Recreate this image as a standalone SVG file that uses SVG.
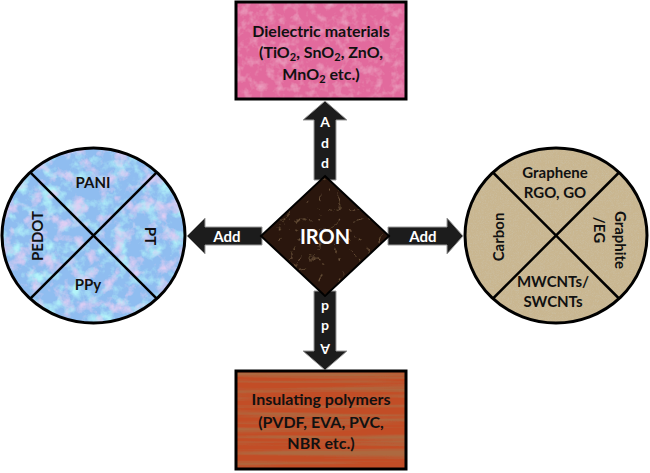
<svg xmlns="http://www.w3.org/2000/svg" width="650" height="473" viewBox="0 0 650 473">
<defs>
<style>
.lbl{font-family:Lato,"Open Sans","Liberation Sans",sans-serif;font-weight:bold;fill:#111;text-anchor:middle;}
.wht{font-family:Lato,"Open Sans","Liberation Sans",sans-serif;font-weight:bold;fill:#fff;text-anchor:middle;}
.edge{fill:none;stroke:#000;stroke-width:3;}
.div{stroke:#000;stroke-width:2.5;}
.arrow{fill:#1c1c1c;stroke:#9a9a9a;stroke-width:1;}
</style>
<filter id="tPink" x="0" y="0" width="1" height="1">
<feTurbulence type="fractalNoise" baseFrequency="0.12" numOctaves="3" seed="4" result="n"/>
<feColorMatrix in="n" type="matrix" values="0 0 0 0 0.88  0 0 0 0 0.5  0 0 0 0 0.66  1.2 0 0 0 -0.55" result="c"/>
<feComposite in="c" in2="SourceGraphic" operator="over" result="m"/>
<feComposite in="m" in2="SourceAlpha" operator="in"/>
</filter>
<filter id="tBlue" x="0" y="0" width="1" height="1">
<feTurbulence type="fractalNoise" baseFrequency="0.07" numOctaves="4" seed="7" result="n"/>
<feColorMatrix in="n" type="matrix" values="0 0 0 0 0.45  0 0 0 0 0.9  0 0 0 0 0.95  3 0 0 0 -1.45" result="c"/>
<feColorMatrix in="n" type="matrix" values="0 0 0 0 0.75  0 0 0 0 0.62  0 0 0 0 0.9  0 0 3 0 -1.5" result="p"/>
<feComposite in="c" in2="SourceGraphic" operator="over" result="m1"/>
<feComposite in="p" in2="m1" operator="over" result="m"/>
<feComposite in="m" in2="SourceAlpha" operator="in"/>
</filter>
<filter id="tWood" x="0" y="0" width="1" height="1">
<feTurbulence type="fractalNoise" baseFrequency="0.004 0.18" numOctaves="3" seed="3" result="n"/>
<feColorMatrix in="n" type="matrix" values="0 0 0 0 0.42  0 0 0 0 0.14  0 0 0 0 0.05  3.2 0 0 0 -1.4" result="c"/>
<feComposite in="c" in2="SourceGraphic" operator="over" result="m"/>
<feComposite in="m" in2="SourceAlpha" operator="in"/>
</filter>
<filter id="tTan" x="0" y="0" width="1" height="1">
<feTurbulence type="turbulence" baseFrequency="0.6 0.6" numOctaves="2" seed="5" result="n"/>
<feColorMatrix in="n" type="matrix" values="0 0 0 0 0.6  0 0 0 0 0.53  0 0 0 0 0.38  1.2 0 0 0 -0.2" result="c"/>
<feComposite in="c" in2="SourceGraphic" operator="over" result="m"/>
<feComposite in="m" in2="SourceAlpha" operator="in"/>
</filter>
<filter id="tIron" x="0" y="0" width="1" height="1">
<feTurbulence type="turbulence" baseFrequency="0.05" numOctaves="4" seed="9" result="n"/>
<feColorMatrix in="n" type="matrix" values="0 0 0 0 0.42  0 0 0 0 0.24  0 0 0 0 0.12  -2.5 0 0 0 0.35" result="c"/>
<feComposite in="c" in2="SourceGraphic" operator="over" result="m"/>
<feComposite in="m" in2="SourceAlpha" operator="in"/>
</filter>
</defs>
<rect width="650" height="473" fill="#fff"/>

<g id="connectors">
<g id="arrow-up">
<path class="arrow" d="M314,180 L314,120 L303,120 L325,101 L347,120 L336,120 L336,180 Z"/>
<text class="wht" font-size="14" x="325" y="127">A</text>
<text class="wht" font-size="14" x="325" y="148">d</text>
<text class="wht" font-size="14" x="325" y="168">d</text>
</g>
<g id="arrow-down" transform="rotate(180 325 235.5)">
<path class="arrow" d="M314,180 L314,120 L303,120 L325,101 L347,120 L336,120 L336,180 Z"/>
<text class="wht" font-size="14" x="325" y="127">A</text>
<text class="wht" font-size="14" x="325" y="148">d</text>
<text class="wht" font-size="14" x="325" y="168">d</text>
</g>
<g id="arrow-left">
<path class="arrow" d="M262,227 L205,227 L205,218 L187,236 L205,254 L205,245 L262,245 Z"/>
<text class="wht" font-size="15" x="227" y="241.5">Add</text>
</g>
<g id="arrow-right">
<path class="arrow" d="M388,227 L447,227 L447,218 L463,236 L447,254 L447,245 L388,245 Z"/>
<text class="wht" font-size="15" x="423" y="241.5">Add</text>
</g>
</g>

<g id="node-dielectric">
<rect x="236" y="2" width="170" height="97" fill="#e26a9d" filter="url(#tPink)"/>
<rect class="edge" x="236" y="2" width="170" height="97"/>
<text class="lbl" font-size="16" x="321" y="37">Dielectric materials</text>
<text class="lbl" font-size="16" x="321" y="58">(TiO<tspan font-size="11" dy="3">2</tspan><tspan dy="-3">, SnO</tspan><tspan font-size="11" dy="3">2</tspan><tspan dy="-3">, ZnO,</tspan></text>
<text class="lbl" font-size="16" x="321" y="80">MnO<tspan font-size="11" dy="3">2</tspan><tspan dy="-3"> etc.)</tspan></text>
</g>

<g id="node-insulating">
<rect x="236" y="371" width="170" height="98" fill="#c24d26" filter="url(#tWood)"/>
<rect class="edge" x="236" y="371" width="170" height="98"/>
<text class="lbl" font-size="16" x="321" y="405">Insulating polymers</text>
<text class="lbl" font-size="16" x="321" y="428">(PVDF, EVA, PVC,</text>
<text class="lbl" font-size="16" x="321" y="449">NBR etc.)</text>
</g>

<g id="node-conducting-polymers">
<ellipse cx="93.5" cy="235.5" rx="91.5" ry="87.5" fill="#8fbdf0" filter="url(#tBlue)"/>
<line class="div" x1="30.3" y1="172.3" x2="156.7" y2="298.7"/>
<line class="div" x1="156.7" y1="172.3" x2="30.3" y2="298.7"/>
<ellipse class="edge" cx="93.5" cy="235.5" rx="91.5" ry="87.5"/>
<text class="lbl" font-size="15" x="93" y="188">PANI</text>
<text class="lbl" font-size="15" x="88" y="290">PPy</text>
<text class="lbl" font-size="15" transform="translate(43 236) rotate(-90)">PEDOT</text>
<text class="lbl" font-size="15" transform="translate(145 236) rotate(90)">PT</text>
</g>

<g id="node-carbon">
<ellipse cx="556" cy="235.5" rx="91" ry="87.5" fill="#c9b690" filter="url(#tTan)"/>
<line class="div" x1="493" y1="172.5" x2="619" y2="298.5"/>
<line class="div" x1="619" y1="172.5" x2="493" y2="298.5"/>
<ellipse class="edge" cx="556" cy="235.5" rx="91" ry="87.5"/>
<text class="lbl" font-size="15" x="555" y="178">Graphene</text>
<text class="lbl" font-size="15" x="555" y="198">RGO, GO</text>
<text class="lbl" font-size="15" x="553" y="287">MWCNTs/</text>
<text class="lbl" font-size="15" x="553" y="307">SWCNTs</text>
<text class="lbl" font-size="15" transform="translate(504 237) rotate(-90)">Carbon</text>
<text class="lbl" font-size="15" transform="translate(615 240) rotate(90)">Graphite</text>
<text class="lbl" font-size="15" transform="translate(594 230) rotate(90)">/EG</text>
</g>

<g id="node-iron">
<polygon points="325,176 389,236 325,296 261,236" fill="#2a170d" filter="url(#tIron)"/>
<polygon points="325,176 389,236 325,296 261,236" fill="none" stroke="#000" stroke-width="2"/>
<text class="wht" font-size="20" x="325" y="244">IRON</text>
</g>
</svg>
